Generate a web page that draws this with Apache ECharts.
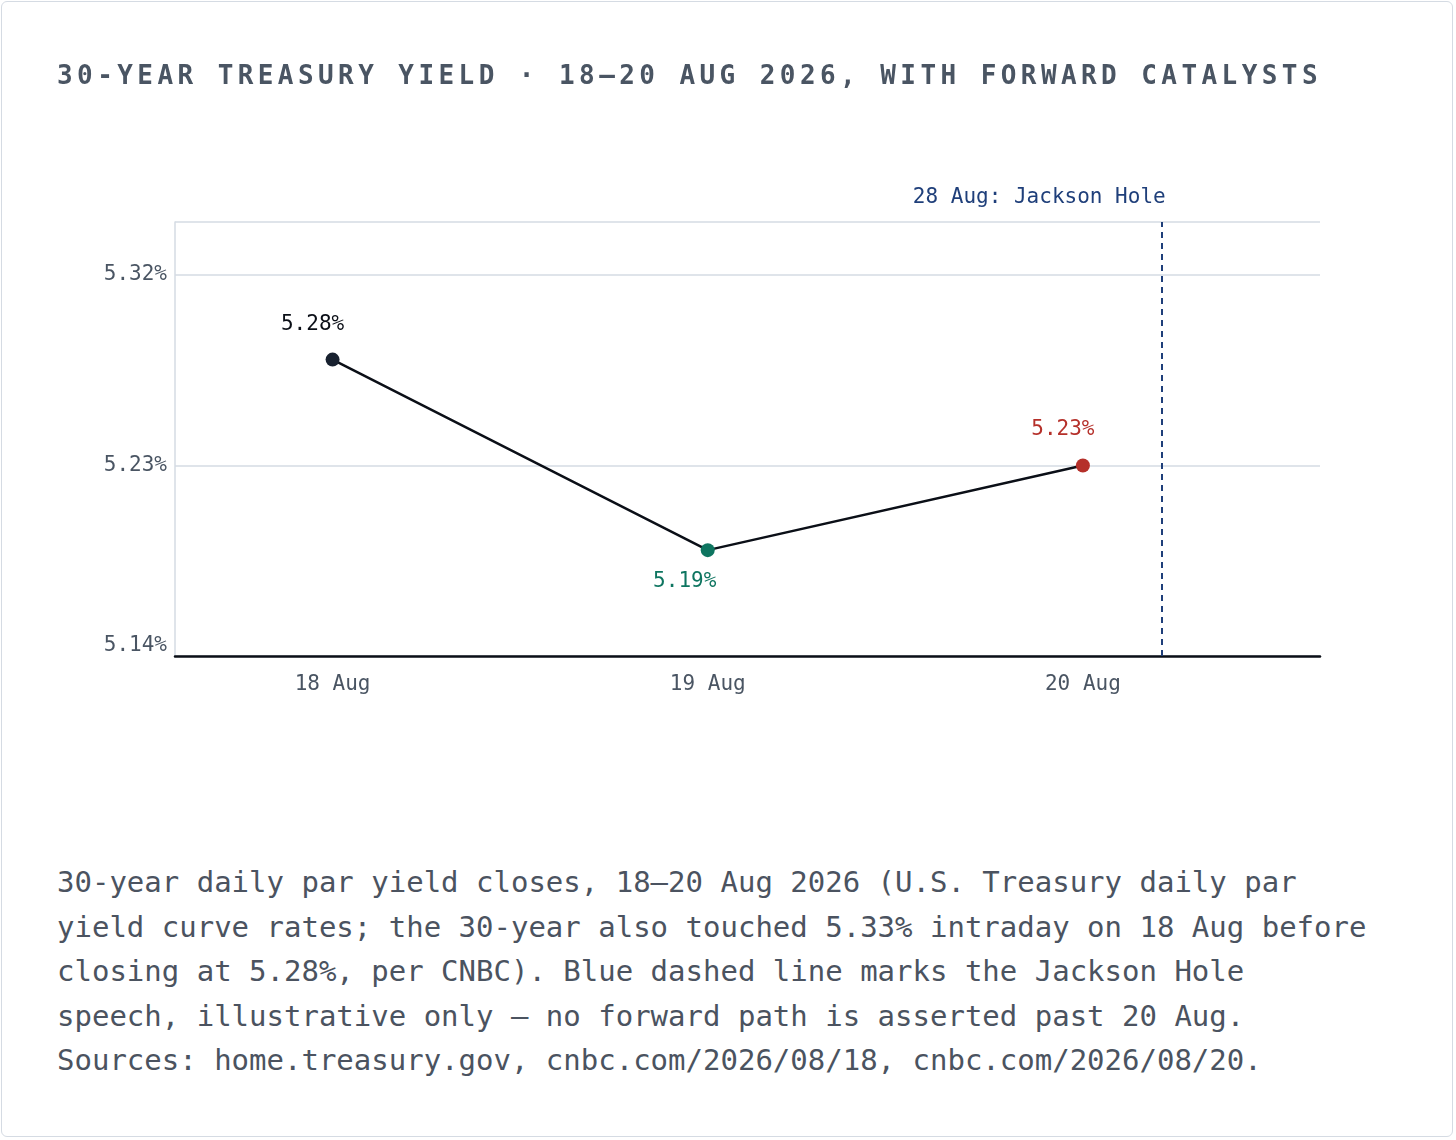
<!DOCTYPE html>
<html><head><meta charset="utf-8">
<script src="https://cdn.jsdelivr.net/npm/echarts@6/dist/echarts.min.js"></script>
<style>
html,body{margin:0;padding:0;background:#fff;width:1456px;height:1140px;overflow:hidden}
#card{position:absolute;left:1px;top:1px;width:1452px;height:1136px;border:1px solid #d5dbe3;border-radius:6px;box-sizing:border-box}
#title{position:absolute;left:57px;top:60px;font:bold 26px "DejaVu Sans Mono",monospace;letter-spacing:0px;color:#4a5563;white-space:nowrap;display:inline-block}
#chart{position:absolute;left:0;top:0;width:1456px;height:800px}
#cap{position:absolute;left:57px;top:860px;font:29px "DejaVu Sans Mono",monospace;line-height:44.5px;color:#4b5360;white-space:pre}
</style></head><body>
<div id="card"></div>
<div id="chart"></div>
<span id="title">30-YEAR TREASURY YIELD · 18–20 AUG 2026, WITH FORWARD CATALYSTS</span>
<div id="cap">30-year daily par yield closes, 18–20 Aug 2026 (U.S. Treasury daily par
yield curve rates; the 30-year also touched 5.33% intraday on 18 Aug before
closing at 5.28%, per CNBC). Blue dashed line marks the Jackson Hole
speech, illustrative only — no forward path is asserted past 20 Aug.
Sources: home.treasury.gov, cnbc.com/2026/08/18, cnbc.com/2026/08/20.</div>
<script>
const categories = ['18 Aug','19 Aug','20 Aug'];
const yields = [5.28, 5.19, 5.23];
const pointColors = ['#18212f','#0e7560','#b5302a'];
const labelOffsets = [-20, -23, -20];
const eventPos = 2.21;
const eventLabel = '28 Aug: Jackson Hole';

(function(){
  const t=document.getElementById('title');
  const n=t.textContent.length;
  const w=t.getBoundingClientRect().width;
  t.style.letterSpacing=((1265-w)/n)+'px';
})();

const mono = '"DejaVu Sans Mono", monospace';
const chart = echarts.init(document.getElementById('chart'));
chart.setOption({
  animation:false,
  grid:{left:175,right:136,top:222,bottom:144},
  xAxis:{type:'value',min:-0.42,max:2.632,
    axisLine:{show:true,onZero:false,lineStyle:{color:'#0b0f17',width:2.5}},
    axisTick:{show:false},splitLine:{show:false},
    axisLabel:{customValues:[0,1,2],formatter:v=>categories[Math.round(v)],
      color:'#4a5563',fontFamily:mono,fontSize:21,margin:18}},
  yAxis:{type:'value',min:5.14,max:5.345,interval:0.09,
    axisLine:{show:true,onZero:false,lineStyle:{color:'#d5dbe3',width:1.5}},
    axisTick:{show:false},
    splitLine:{show:true,lineStyle:{color:'#d5dbe3',width:1.5}},
    axisLabel:{formatter:v=>(v>5.344?'':v.toFixed(2)+'%'),color:'#4a5563',fontFamily:mono,fontSize:21,margin:8,
      verticalAlignMinLabel:'bottom',showMaxLabel:false}},
  series:[{type:'line',
    data:yields.map((v,i)=>({value:[i,v],itemStyle:{color:pointColors[i]},
      label:{show:true,position:i===1?'bottom':'top',distance:i===1?14:18,color:i===0?'#0b0f17':pointColors[i],
        fontFamily:mono,fontSize:21,formatter:v.toFixed(2)+'%',offset:[labelOffsets[i],0]}})),
    symbol:'circle',symbolSize:14,lineStyle:{color:'#0b0f17',width:2.5},
    markLine:{silent:true,symbol:'none',
      lineStyle:{color:'#1f3f7a',type:[6,5],width:2},
      label:{show:true,position:'end',formatter:eventLabel,color:'#1f3f7a',fontFamily:mono,fontSize:21,distance:14,align:'right',offset:[4,0]},
      data:[{xAxis:eventPos}]}}]
});
</script></body></html>
